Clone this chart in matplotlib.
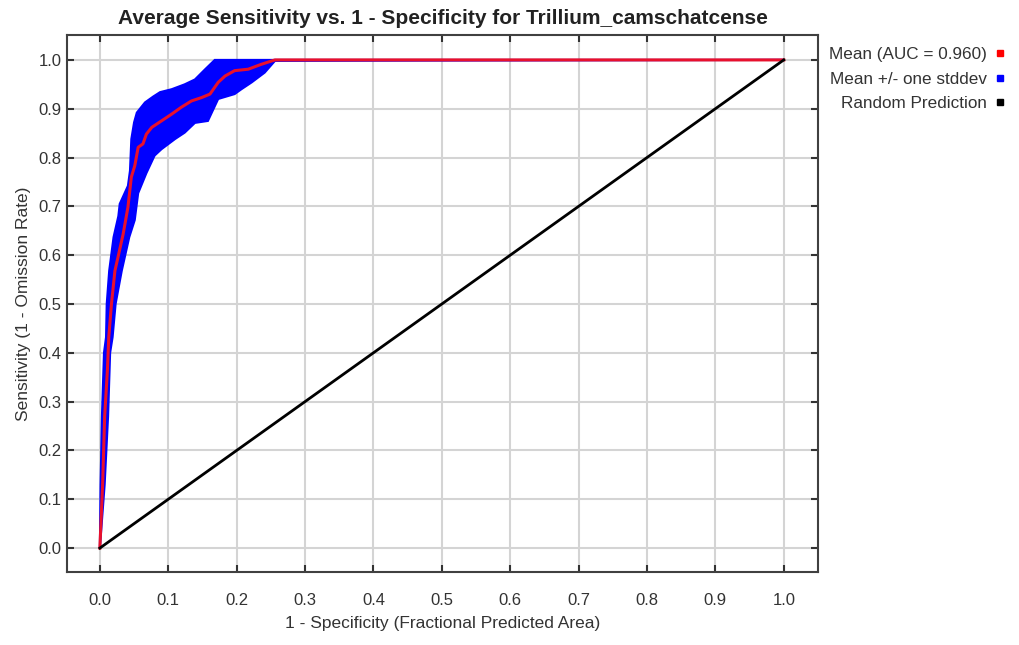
import matplotlib
matplotlib.use('Agg')
import matplotlib.pyplot as plt
from matplotlib.lines import Line2D

plt.rcParams['font.family'] = ['Liberation Sans', 'DejaVu Sans']

# mean ROC curve
mean_x = [0, 0.004, 0.007, 0.011, 0.013, 0.017, 0.022, 0.027, 0.034, 0.041, 0.046, 0.051,
          0.056, 0.063, 0.068, 0.076, 0.090, 0.105, 0.119, 0.134, 0.149, 0.161, 0.173,
          0.183, 0.197, 0.217, 0.236, 0.256, 1.0]
mean_y = [0, 0.13, 0.27, 0.364, 0.432, 0.501, 0.568, 0.599, 0.643, 0.698, 0.760, 0.783,
          0.821, 0.828, 0.848, 0.862, 0.875, 0.889, 0.903, 0.916, 0.923, 0.930, 0.954,
          0.967, 0.978, 0.981, 0.991, 1.0, 1.0]

# mean + one stddev (left edge of band)
up_x = [0, 0.001, 0.003, 0.006, 0.009, 0.010, 0.0136, 0.020, 0.027, 0.029, 0.041, 0.044,
        0.046, 0.050, 0.054, 0.066, 0.078, 0.088, 0.105, 0.124, 0.139, 0.154, 0.168, 1.0]
up_y = [0, 0.13, 0.27, 0.40, 0.432, 0.50, 0.568, 0.637, 0.68, 0.705, 0.742, 0.773,
        0.838, 0.872, 0.892, 0.913, 0.925, 0.934, 0.940, 0.950, 0.960, 0.981, 1.0, 1.0]

# mean - one stddev (right edge of band)
lo_x = [0, 0.007, 0.012, 0.015, 0.0186, 0.023, 0.032, 0.043, 0.051, 0.054, 0.056, 0.068,
        0.080, 0.090, 0.110, 0.124, 0.139, 0.158, 0.166, 0.173, 0.197, 0.207, 0.222,
        0.241, 0.256, 1.0]
lo_y = [0, 0.13, 0.27, 0.40, 0.432, 0.50, 0.568, 0.637, 0.672, 0.705, 0.727, 0.768,
        0.804, 0.817, 0.838, 0.851, 0.871, 0.875, 0.899, 0.920, 0.930, 0.940, 0.954,
        0.974, 0.998, 1.0]

random_x = [0, 1]
random_y = [0, 1]

ticks = [0.0, 0.1, 0.2, 0.3, 0.4, 0.5, 0.6, 0.7, 0.8, 0.9, 1.0]
tick_labels = ['%.1f' % t for t in ticks]
legend_labels = ['Mean (AUC = 0.960)', 'Mean +/- one stddev', 'Random Prediction']

fig = plt.figure(figsize=(10.19, 6.45), dpi=100)
ax = fig.add_axes([0.0658, 0.1132, 0.7369, 0.8325])

ax.grid(True, color='#d4d4d4', lw=1.5)
ax.set_axisbelow(True)

band_x = up_x + lo_x[::-1]
band_y = up_y + lo_y[::-1]
ax.fill(band_x, band_y, color='#0000ff', lw=1.5, zorder=2)
ax.plot(mean_x, mean_y, color='#e8102c', lw=2.2, zorder=3)
ax.plot(random_x, random_y, color='black', lw=2, zorder=3)

ax.set_xlim(-0.048, 1.05)
ax.set_ylim(-0.049, 1.051)
ax.set_xticks(ticks)
ax.set_xticklabels(tick_labels)
ax.set_yticks(ticks)
ax.set_yticklabels(tick_labels)
ax.tick_params(direction='in', length=5, width=1.5, color='#333333', labelsize=12,
               labelcolor='#333333', top=True, right=True)
ax.tick_params(axis='x', pad=15)
ax.tick_params(axis='y', pad=4)
for s in ax.spines.values():
    s.set_color('#404040')
    s.set_linewidth(1.5)

ax.set_title('Average Sensitivity vs. 1 - Specificity for Trillium_camschatcense',
             fontsize=15, fontweight='bold', color='#222222', pad=8)
ax.set_xlabel('1 - Specificity (Fractional Predicted Area)', fontsize=12.5, color='#333333',
              labelpad=6)
ax.set_ylabel('Sensitivity (1 - Omission Rate)', fontsize=12.5, color='#333333', labelpad=5)

handles = [Line2D([], [], ls='none', marker='s', ms=5, color=c)
           for c in ['#ff0000', '#0000ff', '#000000']]
fig.legend(handles, legend_labels, loc='upper right', bbox_to_anchor=(0.995, 0.94),
           frameon=False, markerfirst=False, fontsize=12.3, labelcolor='#333333',
           handlelength=0.6, handletextpad=0.5, labelspacing=0.55, borderpad=0)

plt.savefig('out.png')
